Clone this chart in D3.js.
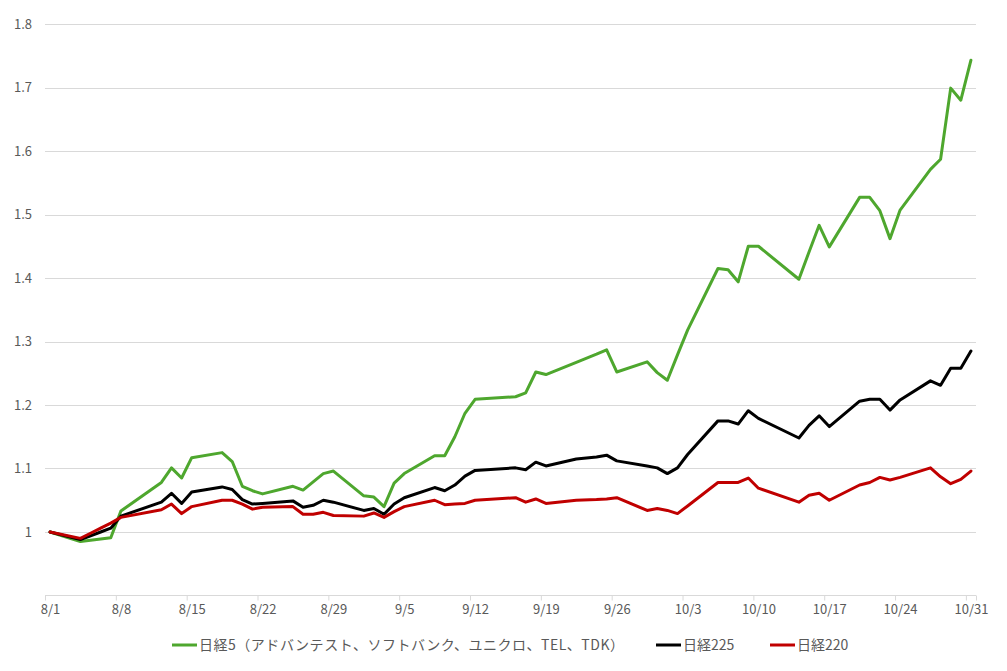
<!DOCTYPE html>
<html>
<head>
<meta charset="utf-8">
<script src="https://cdn.jsdelivr.net/npm/d3@7/dist/d3.min.js"></script>
<style>
  html, body { margin: 0; padding: 0; background: #fff; }
  svg { display: block; }
  text { font-family: "Noto Sans CJK JP", "Noto Sans", sans-serif; fill: #595959; }
</style>
</head>
<body>
<svg id="chart" width="1007" height="671"></svg>
<script>
// ---- data ----
const dates = [
  "2025-08-01","2025-08-04","2025-08-05","2025-08-06","2025-08-07","2025-08-08",
  "2025-08-12","2025-08-13","2025-08-14","2025-08-15",
  "2025-08-18","2025-08-19","2025-08-20","2025-08-21","2025-08-22",
  "2025-08-25","2025-08-26","2025-08-27","2025-08-28","2025-08-29",
  "2025-09-01","2025-09-02","2025-09-03","2025-09-04","2025-09-05",
  "2025-09-08","2025-09-09","2025-09-10","2025-09-11","2025-09-12",
  "2025-09-16","2025-09-17","2025-09-18","2025-09-19",
  "2025-09-22","2025-09-24","2025-09-25","2025-09-26",
  "2025-09-29","2025-09-30","2025-10-01","2025-10-02","2025-10-03",
  "2025-10-06","2025-10-07","2025-10-08","2025-10-09","2025-10-10",
  "2025-10-14","2025-10-15","2025-10-16","2025-10-17",
  "2025-10-20","2025-10-21","2025-10-22","2025-10-23","2025-10-24",
  "2025-10-27","2025-10-28","2025-10-29","2025-10-30","2025-10-31"
];

const nikkei5 = [
  1.000,0.985,0.987,0.989,0.991,1.033,
  1.078,1.101,1.085,1.117,
  1.125,1.111,1.072,1.065,1.060,
  1.072,1.066,1.079,1.092,1.096,
  1.057,1.055,1.040,1.077,1.092,
  1.120,1.120,1.150,1.187,1.209,
  1.213,1.219,1.252,1.248,
  1.267,1.280,1.287,1.252,
  1.268,1.251,1.239,1.279,1.318,
  1.415,1.413,1.394,1.450,1.450,
  1.398,1.441,1.483,1.449,
  1.527,1.527,1.506,1.462,1.507,
  1.571,1.587,1.699,1.680,1.743
];

const nikkei225 = [
  1.000,0.988,0.994,1.000,1.006,1.025,
  1.047,1.061,1.045,1.063,
  1.071,1.067,1.051,1.044,1.045,
  1.049,1.039,1.042,1.050,1.047,
  1.034,1.037,1.028,1.044,1.054,
  1.070,1.065,1.074,1.088,1.097,
  1.101,1.098,1.110,1.104,
  1.115,1.118,1.121,1.112,
  1.104,1.101,1.092,1.101,1.122,
  1.175,1.175,1.170,1.191,1.179,
  1.148,1.168,1.183,1.166,
  1.206,1.209,1.209,1.192,1.208,
  1.238,1.231,1.258,1.258,1.285
];

const nikkei220 = [
  1.000,0.990,0.998,1.006,1.014,1.023,
  1.035,1.044,1.029,1.040,
  1.050,1.050,1.044,1.036,1.039,
  1.040,1.028,1.028,1.031,1.026,
  1.025,1.030,1.023,1.032,1.040,
  1.050,1.043,1.044,1.045,1.050,
  1.054,1.047,1.052,1.045,
  1.050,1.051,1.052,1.054,
  1.034,1.037,1.034,1.029,1.041,
  1.078,1.078,1.078,1.085,1.069,
  1.047,1.058,1.061,1.050,
  1.074,1.078,1.086,1.082,1.086,
  1.101,1.087,1.076,1.083,1.096
];

const seriesNames = ["日経5（アドバンテスト、ソフトバンク、ユニクロ、TEL、TDK）", "日経225", "日経220"];
const seriesColors = ["#4ea72e", "#000000", "#c00000"];

const yTicks = [0.9, 1.0, 1.1, 1.2, 1.3, 1.4, 1.5, 1.6, 1.7, 1.8];
const xTickDates = ["2025-08-01","2025-08-08","2025-08-15","2025-08-22","2025-08-29",
  "2025-09-05","2025-09-12","2025-09-19","2025-09-26","2025-10-03",
  "2025-10-10","2025-10-17","2025-10-24","2025-10-31"];

// ---- chart ----
const parse = d3.timeParse("%Y-%m-%d");
const svg = d3.select("#chart");

const x = d3.scaleTime()
  .domain([parse("2025-08-01"), parse("2025-11-01")])
  .range([45, 976]);
const y = d3.scaleLinear().domain([0.9, 1.8]).range([595.5, 24]);

const mid = d => d3.timeHour.offset(d, 12);

// gridlines
svg.append("g")
  .selectAll("line")
  .data(yTicks.filter(v => v > 0.95))
  .join("line")
  .attr("x1", 45).attr("x2", 976)
  .attr("y1", d => Math.round(y(d)) + 0.5).attr("y2", d => Math.round(y(d)) + 0.5)
  .attr("stroke", "#d9d9d9").attr("stroke-width", 1);

// y labels
svg.append("g")
  .selectAll("text")
  .data(yTicks.filter(v => v > 0.95))
  .join("text")
  .attr("x", 32)
  .attr("y", d => y(d))
  .attr("dy", "0.35em")
  .attr("text-anchor", "end")
  .attr("font-size", 13)
  .text(d => d3.format(".1f")(d).replace(/\.0$/, ""));

// x axis: tick marks at day boundaries
const tickAxis = d3.axisBottom(x)
  .tickValues(xTickDates.map(parse).concat([parse("2025-11-01")]))
  .tickSize(5)
  .tickFormat("");
const gTicks = svg.append("g").attr("transform", "translate(0,595.5)").call(tickAxis);
gTicks.select(".domain").attr("stroke", "#d9d9d9").attr("d", "M45,0H976");
gTicks.selectAll(".tick line").attr("stroke", "#d9d9d9");

// x labels centred on the day
const labelAxis = d3.axisBottom(x)
  .tickValues(xTickDates.map(s => mid(parse(s))))
  .tickSize(0)
  .tickPadding(9)
  .tickFormat(d3.timeFormat("%-m/%-d"));
const gLabels = svg.append("g").attr("transform", "translate(0,595.5)").call(labelAxis);
gLabels.select(".domain").remove();
gLabels.selectAll("text")
  .attr("font-size", 13)
  .attr("font-family", "'Noto Sans CJK JP', sans-serif")
  .attr("fill", "#595959");

// lines (series order: later series drawn on top)
const allSeries = [nikkei5, nikkei225, nikkei220];
const line = d3.line()
  .x((d, i) => x(mid(parse(dates[i]))))
  .y(d => y(d));

[0, 1, 2].forEach(k => {
  svg.append("path")
    .datum(allSeries[k])
    .attr("fill", "none")
    .attr("stroke", seriesColors[k])
    .attr("stroke-width", 3)
    .attr("stroke-linejoin", "round")
    .attr("stroke-linecap", "round")
    .attr("d", line);
});

// legend
const legendX = [172, 656, 770];
const legendLen = [425, null, null];
const legend = svg.append("g");
seriesNames.forEach((name, k) => {
  const g = legend.append("g").attr("transform", `translate(${legendX[k]},645)`);
  g.append("line").attr("x1", 0).attr("x2", 25).attr("y1", 0).attr("y2", 0)
    .attr("stroke", seriesColors[k]).attr("stroke-width", 3);
  const t = g.append("text").attr("x", 27).attr("y", 0).attr("dy", "0.35em")
    .attr("font-size", 14).text(name);
  if (legendLen[k]) t.attr("textLength", legendLen[k]).attr("lengthAdjust", "spacing");
});
</script>
</body>
</html>
